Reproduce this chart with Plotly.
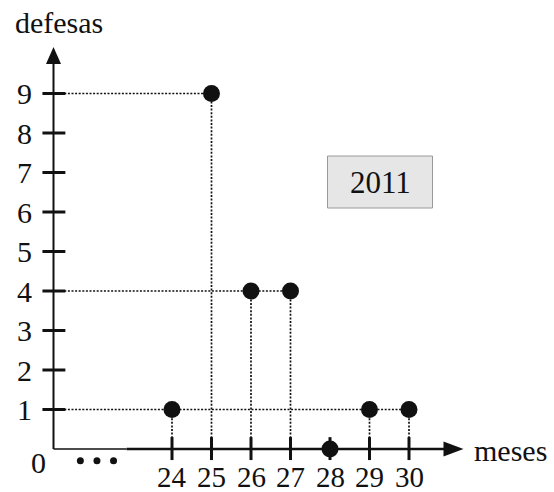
import plotly.graph_objects as go

# ---- data ----
months = [24, 25, 26, 27, 28, 29, 30]
defesas = [1, 9, 4, 4, 0, 1, 1]
y_ticks = [1, 2, 3, 4, 5, 6, 7, 8, 9]
x_tick_labels = ["24", "25", "26", "27", "28", "29", "30"]
year_label = "2011"

# ---- layout constants ----
W, H = 554, 492
PX = 39.5               # pixels per data unit
X0 = 24 - 172 / PX      # data x at left edge
Y0 = -(H - 449) / PX    # data y at bottom edge
AX_X = 21               # position of the vertical axis
INK = "#111111"
FONT = "Liberation Serif"

fig = go.Figure()

# dotted guide lines: horizontal from axis to last point with that value
for v in sorted(set(defesas)):
    if v == 0:
        continue
    xmax = max(m for m, d in zip(months, defesas) if d == v)
    fig.add_trace(go.Scatter(x=[AX_X, xmax], y=[v, v], mode="lines",
                             line=dict(color=INK, width=1.7, dash="2px,1.6px"),
                             hoverinfo="skip"))
# vertical dotted lines
for m, d in zip(months, defesas):
    if d > 0:
        fig.add_trace(go.Scatter(x=[m, m], y=[0, d], mode="lines",
                                 line=dict(color=INK, width=1.7, dash="2px,1.6px"),
                                 hoverinfo="skip"))

# axes lines
fig.add_trace(go.Scatter(x=[AX_X, AX_X], y=[0, 9.9], mode="lines",
                         line=dict(color=INK, width=2), hoverinfo="skip"))
fig.add_trace(go.Scatter(x=[AX_X, 22.85], y=[0, 0], mode="lines",
                         line=dict(color=INK, width=1.6), hoverinfo="skip"))
fig.add_trace(go.Scatter(x=[22.85, 31.0], y=[0, 0], mode="lines",
                         line=dict(color=INK, width=2.5), hoverinfo="skip"))

# tick marks
tx, ty = [], []
for m in months:
    tx += [m, m, None]
    ty += [0.30, -0.28, None]
for v in y_ticks:
    tx += [AX_X - 0.28, AX_X + 0.30, None]
    ty += [v, v, None]
fig.add_trace(go.Scatter(x=tx, y=ty, mode="lines",
                         line=dict(color=INK, width=3), hoverinfo="skip"))

# ellipsis dots
fig.add_trace(go.Scatter(x=[21.68, 22.10, 22.52], y=[-0.30] * 3, mode="markers",
                         marker=dict(color=INK, size=7), hoverinfo="skip"))

# data points
fig.add_trace(go.Scatter(x=months, y=defesas, mode="markers",
                         marker=dict(color=INK, size=17), hoverinfo="skip"))

# arrowheads
yt, yb = (449 - 47) / PX, (449 - 64) / PX
hw = 7.5 / PX
fig.add_shape(type="path", path=f"M {AX_X} {yt} L {AX_X - hw} {yb} L {AX_X + hw} {yb} Z",
              fillcolor=INK, line=dict(width=0))
xt, xb = AX_X + (463 - 53) / PX, AX_X + (443 - 53) / PX
fig.add_shape(type="path", path=f"M {xt} 0 L {xb} {hw} L {xb} {-hw} Z",
              fillcolor=INK, line=dict(width=0))

# year box
fig.add_shape(type="rect", x0=AX_X + 274 / PX, x1=AX_X + 379 / PX,
              y0=(449 - 208) / PX, y1=(449 - 156) / PX,
              fillcolor="#e6e6e6", line=dict(color="#9a9a9a", width=1))

ann = []
tf = dict(family=FONT, size=30, color=INK)
ann.append(dict(x=AX_X + 326.5 / PX, y=(449 - 182) / PX, text=year_label,
                showarrow=False, font=dict(family=FONT, size=31, color=INK)))
for v in y_ticks:
    ann.append(dict(x=AX_X - 20 / PX, y=v, text=str(v), xanchor="right",
                    showarrow=False, font=tf))
ann.append(dict(x=AX_X - 15 / PX, y=-0.33, text="0", showarrow=False, font=tf))
for m, lab in zip(months, x_tick_labels):
    ann.append(dict(x=m, y=-0.72, text=lab, showarrow=False,
                    font=dict(family=FONT, size=29, color=INK)))
ann.append(dict(x=AX_X - 41 / PX, y=(449 - 22) / PX, text="defesas",
                xanchor="left", showarrow=False, font=tf))
ann.append(dict(x=AX_X + 418 / PX, y=-0.05, text="meses",
                xanchor="left", showarrow=False, font=tf))
for a in ann:
    a.update(xref="x", yref="y")

fig.update_layout(
    width=W, height=H, autosize=False,
    margin=dict(l=0, r=0, t=0, b=0, pad=0),
    paper_bgcolor="white", plot_bgcolor="white",
    showlegend=False,
    xaxis=dict(range=[X0, X0 + W / PX], visible=False, fixedrange=True),
    yaxis=dict(range=[Y0, Y0 + H / PX], visible=False, fixedrange=True),
    annotations=ann,
)
fig.write_html("out.html", config={"displayModeBar": False},
               post_script="document.body.style.margin='0';document.body.style.overflow='hidden';")
